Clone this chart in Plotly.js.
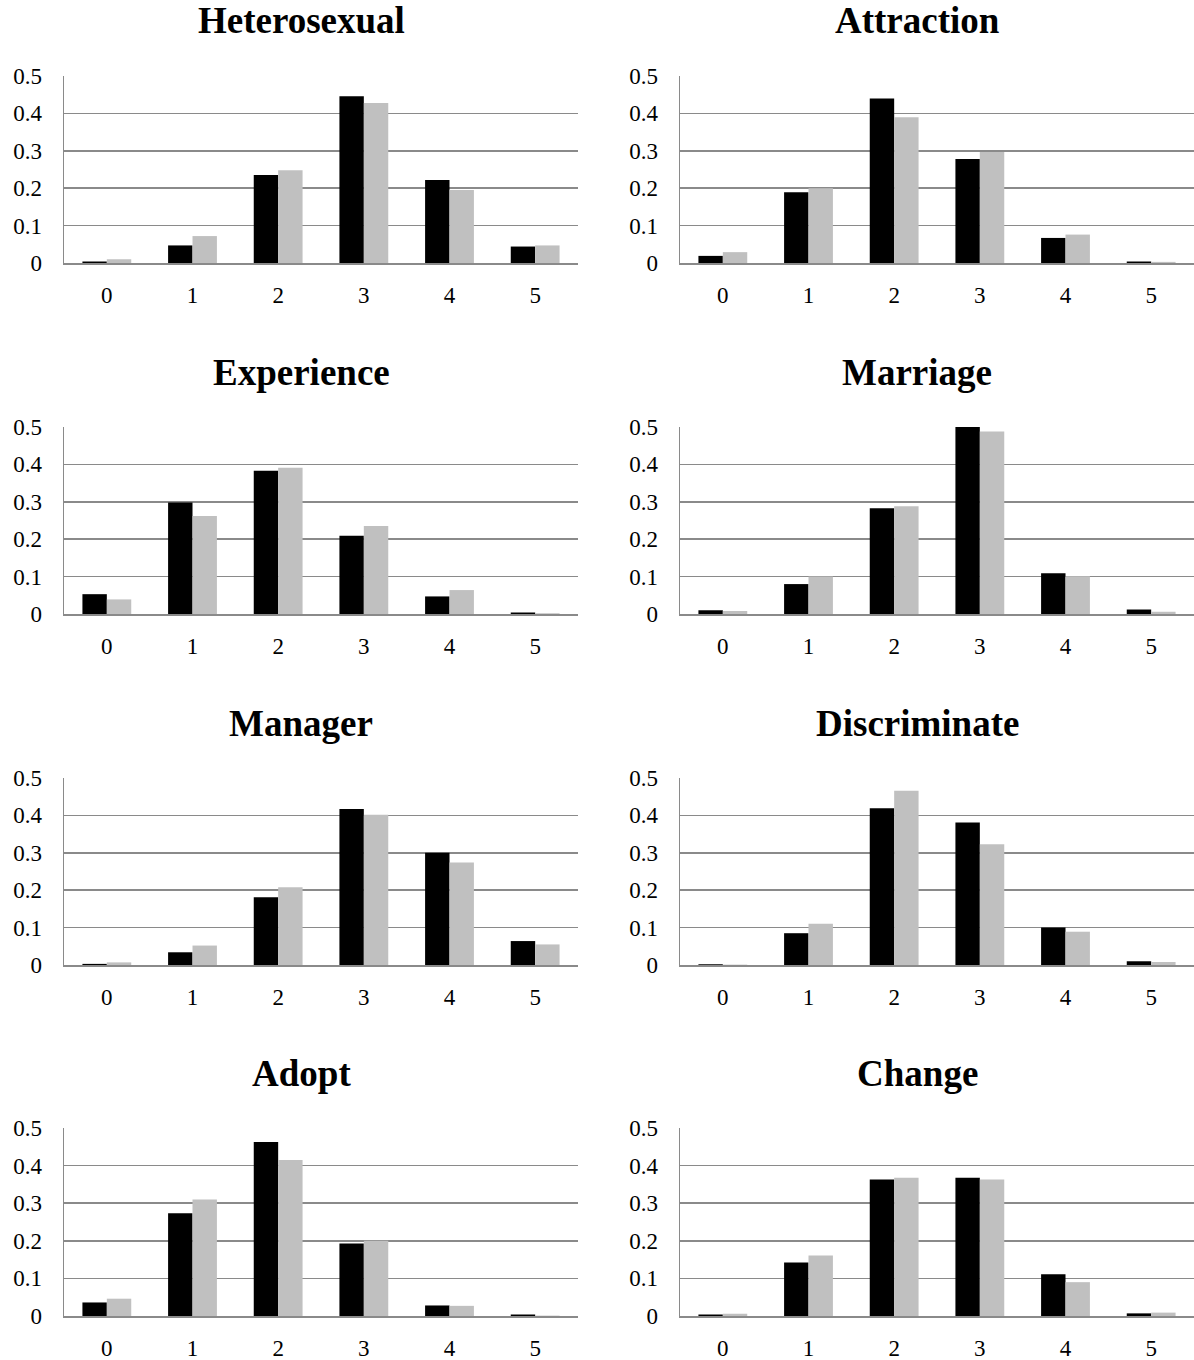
<!DOCTYPE html>
<html>
<head>
<meta charset="utf-8">
<script src="https://cdn.plot.ly/plotly-3.0.1.min.js"></script>
<style>html,body{margin:0;padding:0;background:#fff;}</style>
</head>
<body>
<div id="chart" style="width:1194px;height:1360px;"></div>
<script>
const categories = ['0','1','2','3','4','5'];
const panelTitles = ['Heterosexual','Attraction','Experience','Marriage','Manager','Discriminate','Adopt','Change'];
const yTickVals = [0, 0.1, 0.2, 0.3, 0.4, 0.5];
const yTickText = ['0','0.1','0.2','0.3','0.4','0.5'];

const heterosexualBlack = [0.004, 0.047, 0.235, 0.446, 0.222, 0.044];
const heterosexualGray  = [0.010, 0.072, 0.248, 0.428, 0.195, 0.047];
const attractionBlack   = [0.019, 0.189, 0.440, 0.278, 0.067, 0.004];
const attractionGray    = [0.029, 0.200, 0.390, 0.297, 0.076, 0.003];
const experienceBlack   = [0.053, 0.298, 0.383, 0.209, 0.047, 0.004];
const experienceGray    = [0.039, 0.262, 0.391, 0.235, 0.064, 0.002];
const marriageBlack     = [0.010, 0.080, 0.283, 0.500, 0.109, 0.012];
const marriageGray      = [0.008, 0.100, 0.288, 0.488, 0.101, 0.006];
const managerBlack      = [0.003, 0.034, 0.181, 0.417, 0.300, 0.064];
const managerGray       = [0.007, 0.052, 0.208, 0.402, 0.274, 0.055];
const discriminateBlack = [0.002, 0.085, 0.419, 0.381, 0.100, 0.010];
const discriminateGray  = [0.001, 0.110, 0.466, 0.323, 0.089, 0.008];
const adoptBlack        = [0.036, 0.273, 0.463, 0.193, 0.028, 0.004];
const adoptGray         = [0.046, 0.310, 0.415, 0.200, 0.027, 0.001];
const changeBlack       = [0.004, 0.142, 0.363, 0.368, 0.111, 0.007];
const changeGray        = [0.006, 0.161, 0.368, 0.363, 0.090, 0.009];

const blackSeries = [heterosexualBlack, attractionBlack, experienceBlack, marriageBlack, managerBlack, discriminateBlack, adoptBlack, changeBlack];
const graySeries  = [heterosexualGray, attractionGray, experienceGray, marriageGray, managerGray, discriminateGray, adoptGray, changeGray];

const W = 1194, H = 1360;
const colPx = [[64, 578], [680, 1194]];
const rowPx = [[76, 263], [427, 614], [778, 965], [1128, 1316]];
const titleXPx = [301, 917];
const titleYPx = [21, 372, 723, 1073];

const FONT = 'Liberation Serif';
const gridColor = '#8a8a8a';

const traces = [];
const layout = {
  width: W, height: H,
  margin: {l: 0, r: 0, t: 0, b: 0},
  paper_bgcolor: '#ffffff',
  plot_bgcolor: '#ffffff',
  showlegend: false,
  barmode: 'group',
  bargap: 0.43,
  bargroupgap: 0,
  font: {family: FONT, color: '#000000', size: 23},
  annotations: []
};

for (let i = 0; i < 8; i++) {
  const r = Math.floor(i / 2), c = i % 2;
  const n = i + 1;
  const xa = 'x' + (n === 1 ? '' : n);
  const ya = 'y' + (n === 1 ? '' : n);
  traces.push({
    type: 'bar', x: categories, y: blackSeries[i], xaxis: xa, yaxis: ya,
    marker: {color: '#000000', line: {width: 0}}, hoverinfo: 'skip'
  });
  traces.push({
    type: 'bar', x: categories, y: graySeries[i], xaxis: xa, yaxis: ya,
    marker: {color: '#c0c0c0', line: {width: 0}}, hoverinfo: 'skip'
  });
  const xKey = 'xaxis' + (n === 1 ? '' : n);
  const yKey = 'yaxis' + (n === 1 ? '' : n);
  layout[xKey] = {
    domain: [colPx[c][0] / W, colPx[c][1] / W],
    anchor: ya,
    type: 'category',
    range: [-0.5, 5.5],
    showline: true, linecolor: gridColor, linewidth: 1.5,
    showgrid: false, zeroline: false,
    ticks: '', ticklabelstandoff: 11,
    tickfont: {family: FONT, size: 23, color: '#000000'},
    fixedrange: true
  };
  layout[yKey] = {
    domain: [1 - rowPx[r][1] / H, 1 - rowPx[r][0] / H],
    anchor: xa,
    range: [0, 0.5],
    tickvals: yTickVals, ticktext: yTickText,
    showline: true, linecolor: gridColor, linewidth: 1.5,
    showgrid: true, gridcolor: gridColor, gridwidth: 1.5,
    zeroline: false,
    ticks: '', ticklabelstandoff: 16,
    tickfont: {family: FONT, size: 23, color: '#000000'},
    fixedrange: true
  };
  layout.annotations.push({
    text: '<b>' + panelTitles[i] + '</b>',
    xref: 'paper', yref: 'paper',
    x: titleXPx[c] / W, y: 1 - titleYPx[r] / H,
    xanchor: 'center', yanchor: 'middle',
    showarrow: false,
    font: {family: FONT, size: 37, color: '#000000'}
  });
}

Plotly.newPlot('chart', traces, layout, {displayModeBar: false, staticPlot: true});
</script>
</body>
</html>
